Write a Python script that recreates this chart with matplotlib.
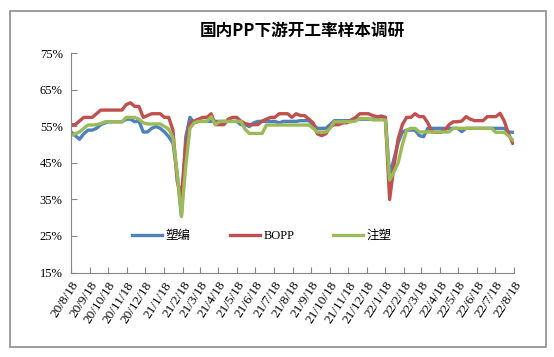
import numpy as np
import pandas as pd
import matplotlib
matplotlib.use("Agg")
import matplotlib.pyplot as plt
from matplotlib.patches import Rectangle

plt.rcParams['font.family'] = ['Liberation Serif', 'Noto Sans CJK SC']

# weekly survey dates
dates = pd.date_range('2020-08-18', periods=105, freq='7D')

# 塑编 (woven)
woven = [53.5, 52.5, 51.5, 53, 54, 54, 54.5, 55.5, 56, 56.3,
         56.3, 56.3, 56.3, 57, 57, 56.3, 56.5, 53.5, 53.5, 54.5,
         55, 54.5, 53.5, 52.2, 50.5, 42, 30.5, 52, 57.5, 56,
         56.4, 56.4, 56.4, 56.4, 56.4, 56.4, 56.4, 56.4, 56.4, 56.4,
         55.5, 55.5, 55, 56, 56.4, 56.4, 56.4, 56.4, 56.4, 56,
         56.4, 56.4, 56.4, 56.4, 56.6, 56.6, 56.6, 55.5, 54.5, 54.5,
         54.5, 55.5, 56.6, 56.6, 56.6, 56.6, 56.6, 57, 57, 57,
         57, 57, 57, 57.9, 57.5, 41.5, 46, 50.5, 53.5, 54,
         54, 54, 52.5, 52.2, 54.5, 54.5, 54.5, 54.5, 54.5, 54.5,
         54.5, 54.5, 53.6, 54.5, 54.5, 54.5, 54.5, 54.5, 54.5, 54.5,
         54.5, 54.5, 54.5, 53.5, 53.4]

# BOPP
bopp = [55.5, 55.5, 56.5, 57.5, 57.5, 57.5, 58.5, 59.5, 59.5, 59.5,
        59.5, 59.5, 59.5, 61, 61.5, 60.5, 60.5, 57.5, 58, 58.5,
        58.5, 58.5, 57.5, 57.5, 54, 40, 36, 50, 56, 56.5,
        57, 57.5, 57.5, 58.5, 55.5, 55.5, 55.5, 57, 57.5, 57.5,
        56.5, 55.8, 55.5, 55.5, 55.5, 56.5, 57, 57.5, 57.5, 58.5,
        58.5, 58.5, 57.5, 58.5, 58, 58, 57, 56, 53, 52.5,
        53, 55, 55.5, 55.5, 56, 56, 56.8, 57.5, 58.5, 58.5,
        58.5, 58, 57.7, 57.7, 57.5, 35, 44, 51.5, 55.5, 57.5,
        57.5, 58.5, 57.7, 57.7, 56, 53.5, 53.4, 53.4, 54, 55.5,
        56.3, 56.3, 56.5, 57.7, 57, 56.6, 56.6, 56.6, 57.7, 57.7,
        57.7, 58.6, 56.5, 53, 50.4]

# 注塑 (injection)
injection = [52.5, 53, 53.5, 54.5, 55.4, 55.4, 55.5, 55.8, 56.3, 56.3,
             56.3, 56.3, 56.3, 57.5, 57.5, 57.5, 57, 56, 55.7, 55.7,
             55.7, 55.7, 55, 54.3, 52, 42, 30.3, 44, 54.5, 56,
             56.4, 56.4, 56.4, 57.7, 55.5, 56.4, 56.4, 56.4, 56.4, 56.4,
             56.4, 54.2, 53.1, 53.1, 53.1, 53.1, 55.4, 55.4, 55.4, 55.4,
             55.4, 55.4, 55.4, 55.4, 55.4, 55.4, 55.4, 54.5, 53.5, 53.5,
             53.5, 54.5, 56.3, 56.3, 56.3, 56.3, 56.3, 56.5, 57.2, 57.2,
             57.2, 56.8, 56.8, 56.8, 56.8, 40.3, 42.5, 45, 50, 54,
             54.5, 54.5, 53.5, 53.5, 53.5, 53.5, 53.5, 53.5, 53.5, 53.5,
             54.5, 54.5, 54.5, 54.5, 54.5, 54.5, 54.5, 54.5, 54.5, 54.5,
             53.4, 53.4, 53.4, 52.4, 51.3]

y_ticks = [15, 25, 35, 45, 55, 65, 75]

fig = plt.figure(figsize=(5.54, 3.57), dpi=100)
fig.patches.append(Rectangle((10 / 554, 1 - 347 / 357), 536 / 554, 336 / 357,
                             transform=fig.transFigure, fill=False,
                             edgecolor='#8c8c8c', linewidth=1.2))

ax = fig.add_axes([71 / 554, 1 - 272.5 / 357, 443 / 554, 219 / 357])

ax.plot(dates, woven, color='#4f81bd', lw=2.4, label='塑编')
ax.plot(dates, bopp, color='#c0504d', lw=2.4, label='BOPP')
ax.plot(dates, injection, color='#9bbb59', lw=2.4, label='注塑')

# monthly ticks on the 18th
month_ticks = pd.date_range('2020-08-01', '2022-08-01', freq='MS') + pd.Timedelta(days=17)
ax.set_xlim(pd.Timestamp('2020-08-18'), pd.Timestamp('2022-08-18'))
ax.set_xticks(month_ticks)
ax.set_xticklabels([f"{d.year % 100}/{d.month}/{d.day}" for d in month_ticks],
                   rotation=57, ha='right', va='top', rotation_mode='anchor', fontsize=9.5)
ax.set_ylim(15, 75)
ax.set_yticks(y_ticks)
ax.set_yticklabels([f"{v}%" for v in y_ticks], fontsize=9)

for s in ['top', 'right']:
    ax.spines[s].set_visible(False)
for s in ['left', 'bottom']:
    ax.spines[s].set_color('#868686')
ax.tick_params(axis='x', direction='in', length=4, color='#868686', pad=5)
ax.tick_params(axis='y', direction='in', length=4, color='#868686', pad=6)

fig.text(302 / 554, 1 - 31 / 357, '国内PP下游开工率样本调研', ha='center', va='center',
         fontsize=12, fontweight='bold', family=['Noto Sans CJK SC'])

fig.legend(loc='center left', bbox_to_anchor=(132 / 554, 1 - 236 / 357), ncol=3,
           frameon=False, fontsize=9, handlelength=2.4, handletextpad=0.3,
           columnspacing=3.1, borderpad=0, borderaxespad=0)

fig.savefig('out.png', dpi=100)
